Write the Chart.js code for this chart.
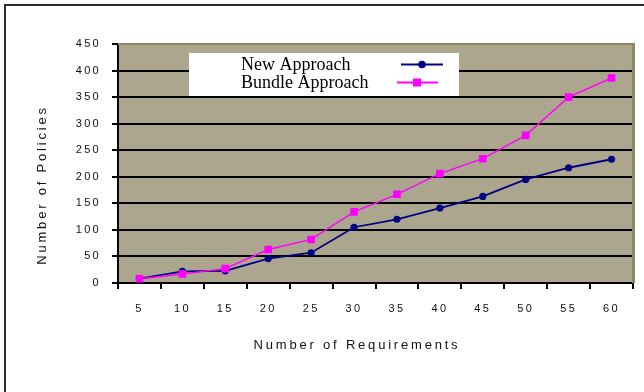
<!DOCTYPE html>
<html>
<head>
<meta charset="utf-8">
<script src="https://cdn.jsdelivr.net/npm/chart.js@4.4.1/dist/chart.umd.min.js"></script>
<style>
  html, body { margin: 0; padding: 0; background: #fff; }
  #wrap { width: 644px; height: 392px; position: relative; }
</style>
</head>
<body>
<div id="wrap"><canvas id="c" width="644" height="392"></canvas></div>
<script>
const categories = ['5', '10', '15', '20', '25', '30', '35', '40', '45', '50', '55', '60'];
const newApproach = [8, 22, 23, 46, 57, 105, 120, 141, 163, 195, 217, 233];
const bundleApproach = [8, 17, 27, 63, 82, 134, 167, 206, 234, 278, 350, 386];
const seriesNames = ['New Approach', 'Bundle Approach'];
const yTicks = { min: 0, max: 450, step: 50 };
const xTitle = 'Number of Requirements';
const yTitle = 'Number of Policies';

const SPACING = '2.3px';

const deco = {
  id: 'deco',
  beforeUpdate(chart) { chart.ctx.letterSpacing = SPACING; },
  beforeDraw(chart) {
    const { ctx, chartArea: a } = chart;
    ctx.save();
    ctx.fillStyle = '#ffffff';
    ctx.fillRect(0, 0, chart.width, chart.height);
    ctx.fillStyle = '#ADA68E';
    ctx.fillRect(a.left, a.top, a.right - a.left, a.bottom - a.top);
    // outer frame (top and left)
    ctx.fillStyle = '#2a2a2a';
    ctx.fillRect(4, 4, chart.width - 4, 2);
    ctx.fillRect(4, 4, 2, chart.height - 4);
    ctx.restore();
    ctx.letterSpacing = SPACING;
  },
  beforeDatasetsDraw(chart) {
    const { ctx, chartArea: a } = chart;
    ctx.save();
    ctx.fillStyle = '#8B8A62';
    ctx.fillRect(a.left, a.top - 1, a.right - a.left + 2, 2);
    ctx.fillRect(a.right - 1, a.top - 1, 3, a.bottom - a.top + 1);
    ctx.restore();
  },
  afterDraw(chart) {
    const { ctx } = chart;
    ctx.save();
    // axis titles
    ctx.letterSpacing = '2.8px';
    ctx.fillStyle = '#111';
    ctx.font = '13px "Liberation Sans", Arial, sans-serif';
    ctx.textAlign = 'center';
    ctx.textBaseline = 'middle';
    ctx.fillText(xTitle, 357, 345);
    ctx.save();
    ctx.translate(42, 185);
    ctx.rotate(-Math.PI / 2);
    ctx.fillText(yTitle, 0, 0);
    ctx.restore();

    // legend
    ctx.letterSpacing = '0px';
    ctx.fillStyle = '#ffffff';
    ctx.fillRect(189, 53, 270, 43);
    ctx.fillStyle = '#000';
    ctx.font = '18px "Liberation Serif", "Times New Roman", serif';
    ctx.textAlign = 'left';
    ctx.textBaseline = 'alphabetic';
    const ds = chart.data.datasets;
    const rows = [
      { y: 64.5, base: 69.5, x0: 401, x1: 443, px: 422 },
      { y: 82.5, base: 87.5, x0: 397, x1: 438, px: 417 }
    ];
    ds.forEach((d, i) => {
      const r = rows[i];
      ctx.fillStyle = '#000';
      ctx.fillText(d.label, 241, r.base);
      ctx.strokeStyle = d.borderColor;
      ctx.lineWidth = 2;
      ctx.beginPath();
      ctx.moveTo(r.x0, r.y);
      ctx.lineTo(r.x1, r.y);
      ctx.stroke();
      ctx.fillStyle = d.borderColor;
      if (d.pointStyle === 'rect') {
        ctx.fillRect(r.px - 4, r.y - 4, 8, 8);
      } else {
        ctx.beginPath();
        ctx.arc(r.px, r.y, 3.8, 0, Math.PI * 2);
        ctx.fill();
      }
    });
    ctx.restore();
  }
};

const tickFont = { family: '"Liberation Sans", Arial, sans-serif', size: 11 };

new Chart(document.getElementById('c'), {
  type: 'line',
  data: {
    labels: categories,
    datasets: [
      {
        label: seriesNames[0],
        data: newApproach,
        borderColor: '#000080',
        backgroundColor: '#000080',
        borderWidth: 1.8,
        pointStyle: 'circle',
        pointRadius: 3.6,
        pointBorderWidth: 0,
        pointBackgroundColor: '#000080',
        tension: 0,
        order: 1
      },
      {
        label: seriesNames[1],
        data: bundleApproach,
        borderColor: '#FF00FF',
        backgroundColor: '#FF00FF',
        borderWidth: 1.4,
        pointStyle: 'rect',
        pointRadius: 5.4,
        pointBorderWidth: 0,
        pointBackgroundColor: '#FF00FF',
        tension: 0,
        order: 0
      }
    ]
  },
  options: {
    responsive: false,
    animation: false,
    devicePixelRatio: 1,
    layout: { padding: { left: 0, top: 44, right: 11, bottom: 0 } },
    plugins: {
      legend: { display: false },
      tooltip: { enabled: false },
      title: { display: false }
    },
    scales: {
      x: {
        type: 'category',
        offset: true,
        afterFit(scale) { scale.height = 109; },
        grid: {
          display: true,
          offset: true,
          drawOnChartArea: false,
          drawTicks: true,
          tickLength: 6,
          color: '#000',
          lineWidth: 2
        },
        border: { display: true, color: '#000', width: 2 },
        ticks: {
          font: tickFont,
          color: '#111',
          padding: 13,
          maxRotation: 0,
          autoSkip: false
        }
      },
      y: {
        min: yTicks.min,
        max: yTicks.max,
        afterFit(scale) { scale.width = 118; },
        grid: {
          display: true,
          drawTicks: true,
          tickLength: 6,
          color: '#000',
          lineWidth: 2
        },
        border: { display: true, color: '#000', width: 2 },
        ticks: {
          stepSize: yTicks.step,
          font: tickFont,
          color: '#111',
          padding: 11
        }
      }
    }
  },
  plugins: [deco]
});
</script>
</body>
</html>
